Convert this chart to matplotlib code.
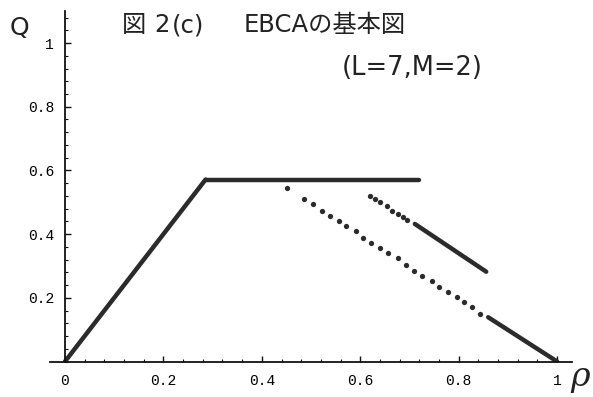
import numpy as np
import matplotlib
matplotlib.use("Agg")
import matplotlib.pyplot as plt
from matplotlib.ticker import MultipleLocator, FixedLocator

plt.rcParams['font.family'] = ['DejaVu Sans', 'Noto Sans CJK JP']

# 自由流の立ち上がりと平坦部
rise_rho = [0.0, 0.2857]
rise_q = [0.0, 0.5714]
flat_rho = [0.2857, 0.72]
flat_q = [0.5714, 0.5714]

# 下側の点列と連続部
low_dots_rho = [0.452, 0.486, 0.503, 0.522, 0.538, 0.556, 0.572, 0.591, 0.606, 0.622,
                0.641, 0.656, 0.676, 0.692, 0.709, 0.726, 0.745, 0.761, 0.778, 0.796,
                0.811, 0.828, 0.843]
low_dots_q = [0.544, 0.510, 0.494, 0.473, 0.458, 0.441, 0.426, 0.410, 0.389, 0.373,
              0.356, 0.340, 0.325, 0.303, 0.284, 0.270, 0.253, 0.233, 0.217, 0.203,
              0.186, 0.170, 0.149]
low_line_rho = [0.86, 1.0]
low_line_q = [0.139, 0.0]

# 上側の点列と連続部
up_dots_rho = [0.619, 0.629, 0.641, 0.654, 0.665, 0.677, 0.686, 0.696]
up_dots_q = [0.521, 0.510, 0.500, 0.489, 0.473, 0.463, 0.453, 0.443]
up_line_rho = [0.711, 0.856]
up_line_q = [0.432, 0.282]

xticks = [0, 0.2, 0.4, 0.6, 0.8, 1]
xticklabels = ['0', '0.2', '0.4', '0.6', '0.8', '1']
yticks = [0.2, 0.4, 0.6, 0.8, 1]
yticklabels = ['0.2', '0.4', '0.6', '0.8', '1']

fig = plt.figure(figsize=(5.93, 3.97), dpi=100)
ax = fig.add_axes([0.0847, 0.0894, 0.8796, 0.8824])
ax.set_xlim(-0.03, 1.03)
ax.set_ylim(0, 1.1)

col = '#2b2b2b'
for xs, ys in [(rise_rho, rise_q), (flat_rho, flat_q),
               (low_line_rho, low_line_q), (up_line_rho, up_line_q)]:
    ax.plot(xs, ys, color=col, lw=3.2, solid_capstyle='round')
ax.plot(low_dots_rho, low_dots_q, 'o', color=col, ms=3.8, mew=0)
ax.plot(up_dots_rho, up_dots_q, 'o', color=col, ms=3.8, mew=0)

for s in ['top', 'right']:
    ax.spines[s].set_visible(False)
ax.spines['left'].set_position(('data', 0))
for s in ['left', 'bottom']:
    ax.spines[s].set_linewidth(1.3)
    ax.spines[s].set_color('#111111')

ax.xaxis.set_major_locator(FixedLocator(xticks))
ax.yaxis.set_major_locator(FixedLocator(yticks))
ax.xaxis.set_minor_locator(MultipleLocator(0.04))
ax.yaxis.set_minor_locator(MultipleLocator(0.04))
ax.set_xticklabels(xticklabels, family='Liberation Mono', fontsize=10.5)
ax.set_yticklabels(yticklabels, family='Liberation Mono', fontsize=10.5)
ax.tick_params(which='major', direction='in', length=4, width=1, color='#111111')
ax.tick_params(which='minor', direction='in', length=2, width=0.8, color='#111111')
ax.tick_params(axis='x', pad=9)
ax.tick_params(axis='y', pad=8)

tc = '#222222'
fig.text(0.2057, 0.919, '図', fontsize=17.5, color=tc, va='baseline')
fig.text(0.2597, 0.919, '2', fontsize=17.5, color=tc, va='baseline')
fig.text(0.290, 0.919, '(c)', fontsize=17.5, color=tc, va='baseline')
fig.text(0.4115, 0.919, 'EBCAの基本図', fontsize=17.5, color=tc, va='baseline')
fig.text(0.5767, 0.811, '(L=7,M=2)', fontsize=18.5, color=tc, va='baseline')
fig.text(0.017, 0.912, 'Q', fontsize=18, color=tc, va='baseline')
fig.text(0.961, 0.027, 'ρ', fontsize=24, color=tc, style='italic',
         family='DejaVu Serif', va='baseline')

fig.savefig('out.png', dpi=100)
